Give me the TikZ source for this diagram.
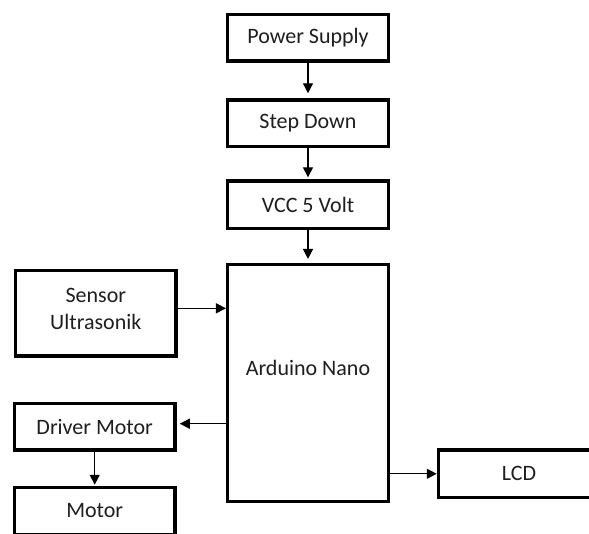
\documentclass[tikz,border=0pt]{standalone}
\usepackage{fontspec}
\setmainfont{Carlito}
\usetikzlibrary{arrows.meta}
\begin{document}
\begin{tikzpicture}[x=1pt,y=-1pt,
  blk/.style={draw=black,line width=3.5pt,rectangle,inner sep=0pt,align=center,
    font=\fontsize{22}{27}\selectfont,text=black!88},
  conn/.style={line width=1.3pt,-{Triangle[length=10pt,width=10pt]}}]
\clip (0,0) rectangle (589,533);
\fill[white] (0,0) rectangle (589,533);
\node[blk,minimum width=160.6pt,minimum height=46.7pt] (ps) at (308,37.7) {Power Supply};
\node[blk,minimum width=160.6pt,minimum height=46.6pt] (sd) at (308,123.3) {Step Down};
\node[blk,minimum width=160.6pt,minimum height=47.3pt] (vcc) at (308,204.7) {VCC 5 Volt};
\node[blk,minimum width=160.6pt,minimum height=236.6pt] (ard) at (308,383) {\raisebox{15pt}[\height][\depth]{Arduino Nano}};
\node[blk,minimum width=160.3pt,minimum height=85.3pt] (sen) at (95.8,313.3) {\raisebox{4pt}[\height][\depth]{Sensor}\\\raisebox{4pt}[\height][\depth]{Ultrasonik}};
\node[blk,minimum width=160.7pt,minimum height=46.7pt] (drv) at (94.7,426.7) {Driver Motor};
\node[blk,minimum width=160.7pt,minimum height=47pt] (mot) at (94.7,511) {Motor};
\node[blk,minimum width=161pt,minimum height=47.7pt] (lcd) at (519,473.8) {LCD};
\draw[conn,shorten >=5pt] (ps.south) -- (sd.north);
\draw[conn,shorten >=2pt] (sd.south) -- (vcc.north);
\draw[conn,shorten >=4pt] (vcc.south) -- (ard.north);
\draw[conn] ([yshift=5pt]sen.east) -- ([yshift=5pt]sen.east -| ard.west);
\draw[conn,shorten >=3pt] ([yshift=3pt]ard.west |- drv.east) -- ([yshift=3pt]drv.east);
\draw[conn,shorten >=1pt] (drv.south) -- (mot.north);
\draw[conn] (ard.east |- lcd.west) -- (lcd.west);
\end{tikzpicture}
\end{document}
